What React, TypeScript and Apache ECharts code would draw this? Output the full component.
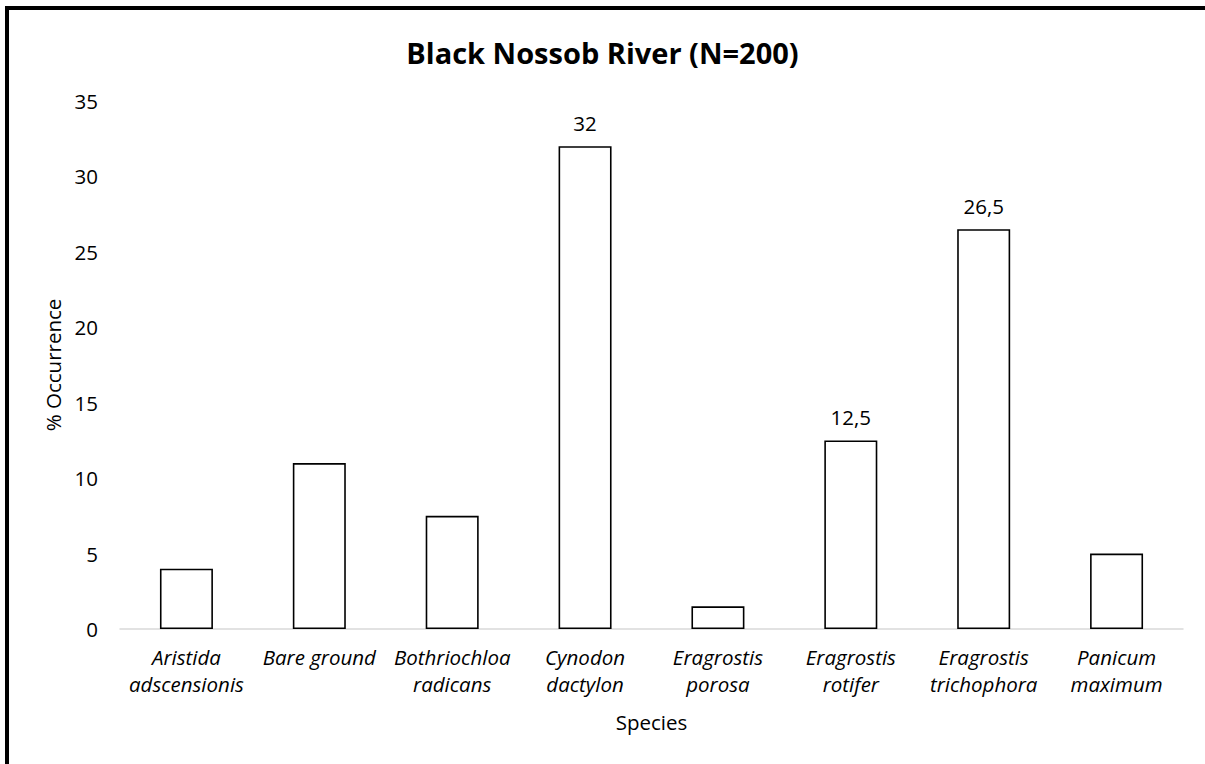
import React, { useEffect, useRef } from "react";
import * as echarts from "echarts";

const species = [
  "Aristida\nadscensionis",
  "Bare ground",
  "Bothriochloa\nradicans",
  "Cynodon\ndactylon",
  "Eragrostis\nporosa",
  "Eragrostis\nrotifer",
  "Eragrostis\ntrichophora",
  "Panicum\nmaximum",
];
const occurrence = [4, 11, 7.5, 32, 1.5, 12.5, 26.5, 5];
// bars that carry a value label
const labelled = [false, false, false, true, false, true, true, false];
const yTicks = { min: 0, max: 35, interval: 5 };

const FONT = "'Open Sans', sans-serif";
const FS = 20.5;

export default function App() {
  const ref = useRef<HTMLDivElement>(null);

  useEffect(() => {
    document.documentElement.style.overflow = "hidden";
    document.body.style.margin = "0";
    document.body.style.overflow = "hidden";
    if (!ref.current) return;
    const chart = echarts.init(ref.current, null, { renderer: "svg" });
    chart.setOption({
      animation: false,
      backgroundColor: "#ffffff",
      textStyle: { fontFamily: FONT },
      title: {
        text: "Black Nossob River (N=200)",
        left: "center",
        top: 33,
        textStyle: { fontSize: 29, fontWeight: "bold", color: "#000", fontFamily: FONT },
      },
      grid: { left: 120, right: 22, top: 101, bottom: 135, containLabel: false },
      xAxis: {
        type: "category",
        data: species,
        name: "Species",
        nameLocation: "middle",
        nameGap: 82,
        nameTextStyle: { fontSize: FS, color: "#000", fontFamily: FONT },
        axisLine: { lineStyle: { color: "#d9d9d9", width: 1.5 } },
        axisTick: { show: false },
        axisLabel: {
          interval: 0,
          margin: 14,
          fontSize: FS,
          lineHeight: 27,
          fontStyle: "italic",
          color: "#000",
          fontFamily: FONT,
        },
      },
      yAxis: {
        type: "value",
        min: yTicks.min,
        max: yTicks.max,
        interval: yTicks.interval,
        name: "% Occurrence",
        nameLocation: "middle",
        nameGap: 53,
        nameTextStyle: { fontSize: FS, color: "#000", fontFamily: FONT },
        axisLine: { show: false },
        axisTick: { show: false },
        splitLine: { show: false },
        axisLabel: { fontSize: FS, color: "#000", margin: 22, fontFamily: FONT },
      },
      series: [
        {
          type: "bar",
          barWidth: 53,
          data: occurrence.map((v, i) => ({
            value: v,
            label: {
              show: labelled[i],
              position: "top",
              distance: 13,
              fontSize: FS,
              color: "#000",
              fontFamily: FONT,
              formatter: (p: any) => String(p.value).replace(".", ","),
            },
          })),
          itemStyle: { color: "#ffffff", borderColor: "#000000", borderWidth: 1.6 },
        },
      ],
    });
    return () => chart.dispose();
  }, []);

  return (
    <div
      style={{
        position: "absolute",
        left: 0,
        top: 0,
        width: 1205,
        height: 764,
        overflow: "hidden",
        background: "#fff",
      }}
    >
      <div
        ref={ref}
        style={{ position: "absolute", left: 0, top: 0, width: 1205, height: 764 }}
      />
      <div
        style={{
          position: "absolute",
          left: 5,
          top: 6,
          width: 1400,
          height: 1000,
          borderLeft: "4px solid #000",
          borderTop: "4px solid #000",
          pointerEvents: "none",
        }}
      />
    </div>
  );
}
